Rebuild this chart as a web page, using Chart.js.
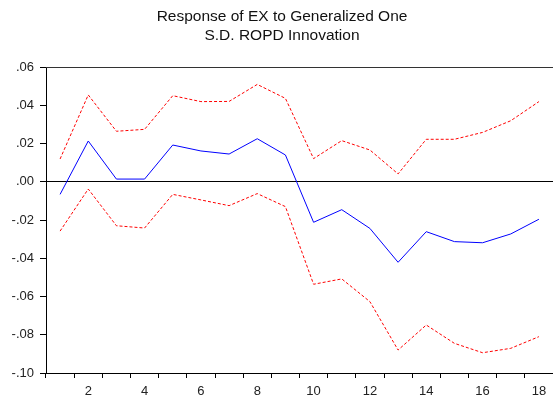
<!DOCTYPE html>
<html>
<head>
<meta charset="utf-8">
<script src="https://cdn.jsdelivr.net/npm/chart.js@4.4.1/dist/chart.umd.min.js"></script>
<style>
  html, body { margin: 0; padding: 0; background: #fff; }
  #wrap { width: 553px; height: 404px; }
</style>
</head>
<body>
<div id="wrap"><canvas id="irf"></canvas></div>
<script>
// periods and response values
const periods = ["1","2","3","4","5","6","7","8","9","10","11","12","13","14","15","16","17","18"];
const response = [-0.0066, 0.0213, 0.0014, 0.0014, 0.0192, 0.0161, 0.0145, 0.0225, 0.0140,
                  -0.0212, -0.0146, -0.0244, -0.0421, -0.0261, -0.0313, -0.0319, -0.0273, -0.0196];
const upperBand = [0.0119, 0.0454, 0.0264, 0.0274, 0.0450, 0.0419, 0.0420, 0.0509, 0.0436,
                   0.0121, 0.0215, 0.0166, 0.0041, 0.0222, 0.0222, 0.0258, 0.0319, 0.0419];
const lowerBand = [-0.0258, -0.0038, -0.0230, -0.0242, -0.0066, -0.0095, -0.0125, -0.0062, -0.0130,
                   -0.0536, -0.0508, -0.0627, -0.0880, -0.0749, -0.0845, -0.0894, -0.0871, -0.0810];
const titleLines = ["Response of EX to Generalized One", "S.D. ROPD Innovation"];

// top frame line of the plot box
const topFrame = {
  id: 'topFrame',
  afterDraw(chart) {
    const a = chart.chartArea, c = chart.ctx;
    c.save();
    c.strokeStyle = '#333';
    c.lineWidth = 1;
    c.beginPath();
    c.moveTo(a.left, a.top + 0.5);
    c.lineTo(a.right, a.top + 0.5);
    c.stroke();
    c.restore();
  }
};

function fmt(v) {
  if (Math.abs(v) < 1e-9) return '.00';
  return (v < 0 ? '-' : '') + Math.abs(v).toFixed(2).slice(1);
}

new Chart(document.getElementById('irf'), {
  type: 'line',
  data: {
    labels: periods,
    datasets: [
      { data: response, borderColor: '#0000ff', borderWidth: 1, pointRadius: 0, tension: 0 },
      { data: upperBand, borderColor: '#ff0000', borderWidth: 1, borderDash: [3, 2], pointRadius: 0, tension: 0 },
      { data: lowerBand, borderColor: '#ff0000', borderWidth: 1, borderDash: [3, 2], pointRadius: 0, tension: 0 }
    ]
  },
  options: {
    responsive: true,
    maintainAspectRatio: false,
    animation: false,
    layout: { padding: { left: 9, right: -2, top: 0, bottom: 0 } },
    plugins: {
      legend: { display: false },
      tooltip: { enabled: false },
      title: {
        display: true,
        text: titleLines,
        color: '#111',
        font: { family: 'Liberation Sans, Arial, sans-serif', size: 15.5, weight: 'normal', lineHeight: 1.2 },
        padding: { top: 7.7, bottom: 22.1 }
      }
    },
    scales: {
      x: {
        offset: true,
        grid: { offset: true, drawOnChartArea: false, drawTicks: true, tickLength: 5, tickColor: '#000' },
        border: { color: '#000', width: 1 },
        ticks: {
          autoSkip: false,
          maxRotation: 0,
          padding: 6,
          color: '#222',
          font: { family: 'Liberation Sans, Arial, sans-serif', size: 13 },
          callback: function (v, i) { return (i + 1) % 2 === 0 ? periods[i] : ''; }
        },
        afterFit: function (s) { s.height = 31; }
      },
      y: {
        min: -0.10,
        max: 0.06,
        grid: {
          drawOnChartArea: true,
          drawTicks: true,
          tickLength: 6,
          tickColor: '#000',
          color: function (ctx) { return ctx.tick && Math.abs(ctx.tick.value) < 1e-9 ? '#000' : 'rgba(0,0,0,0)'; }
        },
        border: { color: '#000', width: 1 },
        ticks: {
          stepSize: 0.02,
          padding: 6,
          color: '#222',
          font: { family: 'Liberation Sans, Arial, sans-serif', size: 13 },
          callback: fmt
        },
        afterFit: function (s) { s.width = 37; }
      }
    }
  },
  plugins: [topFrame]
});
</script>
</body>
</html>
